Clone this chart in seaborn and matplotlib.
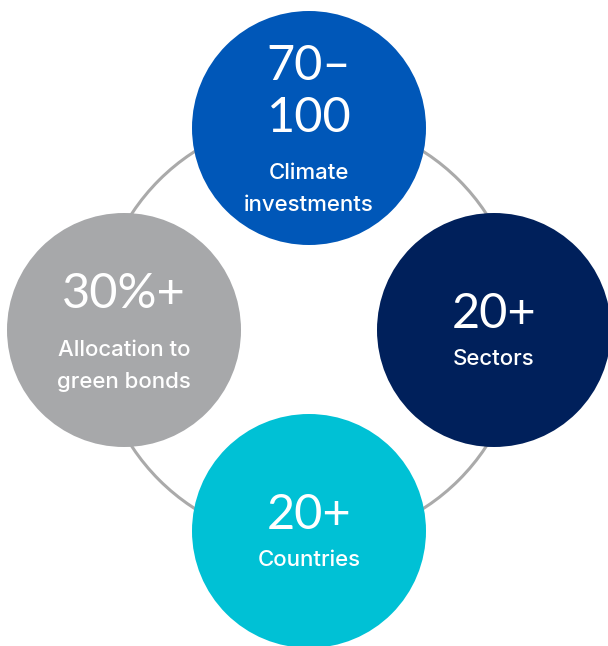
import matplotlib
matplotlib.use("Agg")
import matplotlib.pyplot as plt
from matplotlib.patches import Circle
import seaborn as sns

# figures shown in each bubble
values = ["70–\n100", "20+", "20+", "30%+"]
captions = ["Climate\ninvestments", "Sectors", "Countries", "Allocation to\ngreen bonds"]
colors = ["#0057B8", "#00205B", "#00C1D5", "#A7A8AA"]

# layout (pixels, y down)
centers = [(309, 128), (494, 330), (309, 531), (124, 330)]
radius = 117
ring_center = (309, 330)
ring_radius = 212

sns.set_theme(style="white")
plt.rcParams["font.family"] = ["Lato", "DejaVu Sans"]

fig = plt.figure(figsize=(6.08, 6.46), dpi=100)
ax = fig.add_axes([0, 0, 1, 1])
ax.set_xlim(0, 608)
ax.set_ylim(646, 0)
ax.set_aspect("equal")
ax.axis("off")

ax.add_patch(Circle(ring_center, ring_radius, fill=False, edgecolor="#AAAAAA", lw=2.2, zorder=1))

for (cx, cy), val, cap, col in zip(centers, values, captions, colors):
    ax.add_patch(Circle((cx, cy), radius, facecolor=col, edgecolor="none", zorder=2))
    nlines_v = val.count("\n") + 1
    nlines_c = cap.count("\n") + 1
    if nlines_v == 2:
        vy = cy - 36
        cy_cap = cy + 61
    elif nlines_c == 2:
        vy = cy - 36
        cy_cap = cy + 36
    else:
        vy = cy - 16
        cy_cap = cy + 29
    ax.text(cx, vy, val, color="white", fontsize=35, ha="center", va="center",
            linespacing=1.24, zorder=3)
    ax.text(cx, cy_cap, cap, color="white", fontsize=16, ha="center", va="center",
            fontweight="medium", linespacing=1.75, zorder=3,
            family=["Inter", "DejaVu Sans"])

fig.savefig("out.png", dpi=100, facecolor="white")
